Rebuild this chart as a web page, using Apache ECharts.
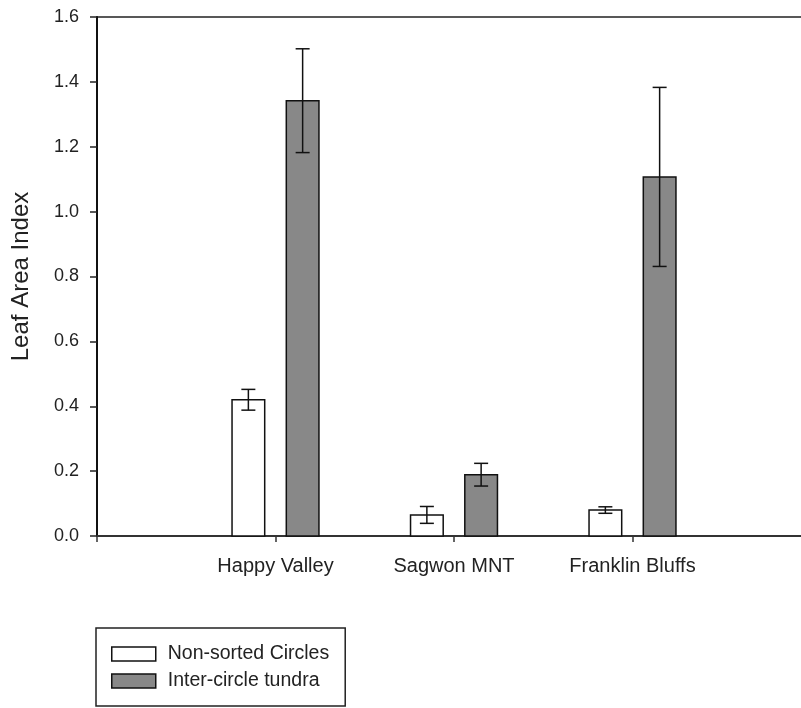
<!DOCTYPE html>
<html>
<head>
<meta charset="utf-8">
<script src="https://cdn.jsdelivr.net/npm/echarts@6/dist/echarts.min.js"></script>
<style>
html,body{margin:0;padding:0;background:#fff;}
#chart{width:801px;height:708px;}
</style>
</head>
<body>
<div id="chart"></div>
<script>
var categories = ['Happy Valley', 'Sagwon MNT', 'Franklin Bluffs'];
var seriesNames = ['Non-sorted Circles', 'Inter-circle tundra'];
var circlesValues = [0.42, 0.065, 0.080];
var circlesErrors = [0.032, 0.026, 0.010];
var tundraValues = [1.342, 0.189, 1.107];
var tundraErrors = [0.160, 0.035, 0.276];
var yTicks = [0, 0.2, 0.4, 0.6, 0.8, 1.0, 1.2, 1.4, 1.6];

var FONT = '"Liberation Sans", Arial, sans-serif';
var TXT = '#222';
var BAR_W = 0.183;   // in x-axis units
var OFFSET = 0.152;  // half distance between bar centres

function buildData(vals, errs) {
  return vals.map(function (v, i) { return [i + 1, v, errs[i]]; });
}

function makeRender(offset, fill) {
  return function (params, api) {
    var x = api.value(0) + offset;
    var v = api.value(1);
    var e = api.value(2);
    var top = api.coord([x, v]);
    var base = api.coord([x, 0]);
    var w = api.size([BAR_W, 0])[0];
    var hi = api.coord([x, v + e]);
    var lo = api.coord([x, v - e]);
    var cap = 7;
    return {
      type: 'group',
      children: [
        {
          type: 'rect',
          shape: { x: top[0] - w / 2, y: top[1], width: w, height: base[1] - top[1] },
          style: { fill: fill, stroke: '#111', lineWidth: 1.5 }
        },
        {
          type: 'line',
          shape: { x1: hi[0], y1: hi[1], x2: lo[0], y2: lo[1] },
          style: { stroke: '#111', lineWidth: 1.5 }
        },
        {
          type: 'line',
          shape: { x1: hi[0] - cap, y1: hi[1], x2: hi[0] + cap, y2: hi[1] },
          style: { stroke: '#111', lineWidth: 1.5 }
        },
        {
          type: 'line',
          shape: { x1: lo[0] - cap, y1: lo[1], x2: lo[0] + cap, y2: lo[1] },
          style: { stroke: '#111', lineWidth: 1.5 }
        }
      ]
    };
  };
}

var chart = echarts.init(document.getElementById('chart'), null, { renderer: 'canvas' });
chart.setOption({
  animation: false,
  backgroundColor: '#fff',
  textStyle: { fontFamily: FONT },
  grid: {
    left: 97, top: 17, width: 714, height: 519,
    outerBoundsMode: 'none', containLabel: false,
    show: true, borderColor: '#222', borderWidth: 1.5, backgroundColor: 'transparent'
  },
  xAxis: {
    type: 'value', min: 0, max: 4, interval: 1,
    splitLine: { show: false },
    axisLine: { show: true, onZero: false, lineStyle: { color: '#333', width: 2 } },
    axisTick: { show: true, length: 6, inside: false, lineStyle: { color: '#333', width: 1.5 } },
    axisLabel: {
      show: true, margin: 20, fontSize: 20, color: TXT, fontFamily: FONT,
      formatter: function (v) { var k = Math.round(v); return (k >= 1 && k <= categories.length) ? categories[k - 1] : ''; }
    }
  },
  yAxis: {
    type: 'value', min: 0, max: 1.6, interval: 0.2,
    name: 'Leaf Area Index', nameLocation: 'middle', nameGap: 64, nameRotate: 90,
    nameTextStyle: { fontSize: 24, color: TXT, fontFamily: FONT },
    splitLine: { show: false },
    axisLine: { show: true, lineStyle: { color: '#111', width: 2 } },
    axisTick: { show: true, length: 7, lineStyle: { color: '#222', width: 1.5 } },
    axisLabel: {
      margin: 18, fontSize: 18, color: TXT, fontFamily: FONT,
      formatter: function (v) { return v.toFixed(1); }
    }
  },
  legend: {
    show: true, orient: 'vertical', left: 96, top: 628,
    padding: [16, 16, 15, 15],
    borderColor: '#222', borderWidth: 1.5,
    itemWidth: 44, itemHeight: 14, itemGap: 7,
    textStyle: { fontSize: 19.5, color: TXT, fontFamily: FONT, lineHeight: 20, padding: [0, 0, 0, 7] },
    data: [
      { name: seriesNames[0], icon: 'rect', itemStyle: { color: '#fff', borderColor: '#111', borderWidth: 1.5 } },
      { name: seriesNames[1], icon: 'rect', itemStyle: { color: '#888', borderColor: '#111', borderWidth: 1.5 } }
    ]
  },
  series: [
    {
      name: seriesNames[0], type: 'custom',
      itemStyle: { color: '#fff', borderColor: '#111' },
      renderItem: makeRender(-OFFSET, '#fff'),
      encode: { x: 0, y: 1 },
      data: buildData(circlesValues, circlesErrors)
    },
    {
      name: seriesNames[1], type: 'custom',
      itemStyle: { color: '#888', borderColor: '#111' },
      renderItem: makeRender(OFFSET, '#888'),
      encode: { x: 0, y: 1 },
      data: buildData(tundraValues, tundraErrors)
    }
  ]
});
</script>
</body>
</html>
